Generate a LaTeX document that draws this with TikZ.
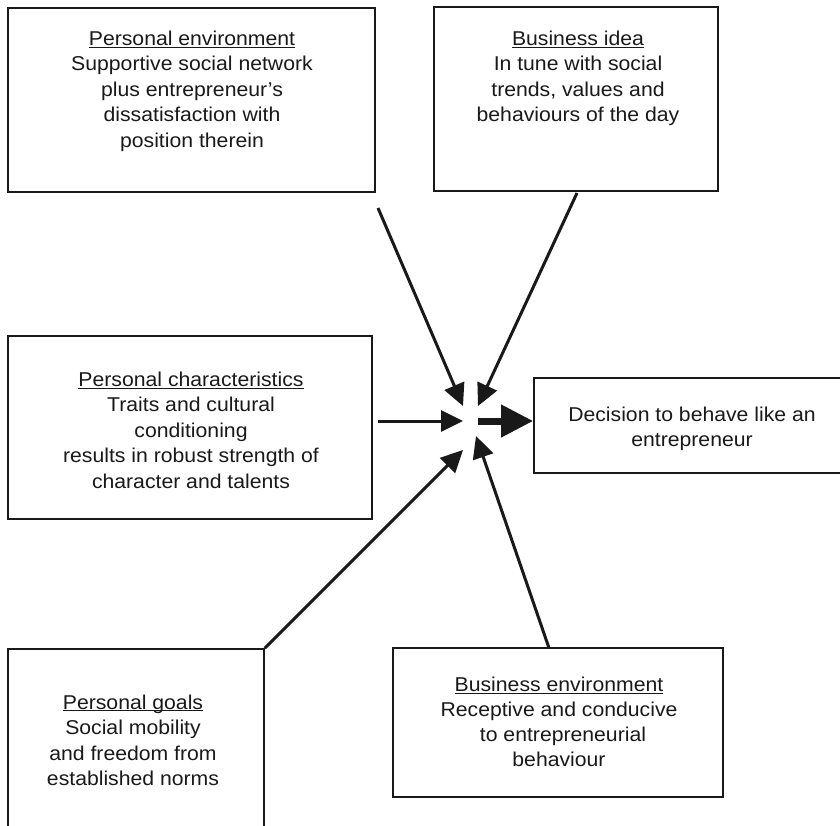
\documentclass[tikz,border=0pt]{standalone}
\usepackage{fontspec}
\setmainfont{Liberation Sans}[FakeStretch=1.06]
\usetikzlibrary{arrows.meta}
\begin{document}
\begin{tikzpicture}[x=1pt,y=-1pt,
  box/.style={draw=black!90, line width=1.6pt, rectangle, inner sep=0pt},
  txt/.style={inner sep=0pt, align=center, anchor=north, text=black!90,
    font=\fontsize{20}{25.5}\selectfont},
  thin/.style={line width=3pt, draw=black!90, -{Triangle[length=22pt,width=21pt]}},
  thick/.style={line width=7pt, draw=black!90, -{Triangle[length=32pt,width=31pt]}}]
\useasboundingbox (0,0) rectangle (840,825);
\clip (0,0) rectangle (840,825);
% boxes
\node[box, minimum width=367pt, minimum height=184pt] (pe) at (191.5,100) {};
\node[box, minimum width=284pt, minimum height=184pt] (bi) at (576,99) {};
\node[box, minimum width=364pt, minimum height=183pt] (pc) at (190,427.5) {};
\node[box, minimum width=316pt, minimum height=95pt] (dec) at (692,425.5) {};
\node[box, minimum width=256pt, minimum height=186pt] (pg) at (136,742) {};
\node[box, minimum width=330pt, minimum height=149pt] (be) at (558,722.5) {};
% texts
\node[txt] (pet) at (192,27.15) {\strut\underline{Personal environment}\\Supportive social network\\plus entrepreneur’s\\dissatisfaction with\\position therein};
\node[txt] (bit) at (578,27.15) {\strut\underline{Business idea}\\In tune with social\\trends, values and\\behaviours of the day};
\node[txt] (pct) at (191,368.15) {\strut\underline{Personal characteristics}\\Traits and cultural\\conditioning\\results in robust strength of\\character and talents};
\node[txt, font=\fontsize{20}{24.5}\selectfont] (dect) at (692,404.15) {\strut Decision to behave like an\\entrepreneur};
\node[txt] (pgt) at (133,691.15) {\strut\underline{\smash{Personal goals}}\\Social mobility\\and freedom from\\established norms};
\node[txt, font=\fontsize{20}{25}\selectfont] (bet) at (559,674.15) {\strut\underline{Business environment}\\Receptive and conducive\\\hspace*{8pt}to entrepreneurial\\behaviour};
% arrow ends
\coordinate (s1) at (378,208);
\coordinate (s2) at (577,193);
\coordinate (s3) at (378,421);
\coordinate (s5) at (549,648);
\coordinate (h1) at (463,406);
\coordinate (h2) at (478,406);
\coordinate (h3) at (463,421);
\coordinate (hout) at (478,421);
\coordinate (h5) at (476,436);
\coordinate (h4) at (463,450);
% arrows
\draw[thin] (s1) -- (h1);
\draw[thin] (s2) -- (h2);
\draw[thin] (s3) -- (h3);
\draw[thin] (pg.north east) -- (h4);
\draw[thin] (s5) -- (h5);
\draw[thick] (hout) -- (dec.west |- hout);
\end{tikzpicture}
\end{document}
